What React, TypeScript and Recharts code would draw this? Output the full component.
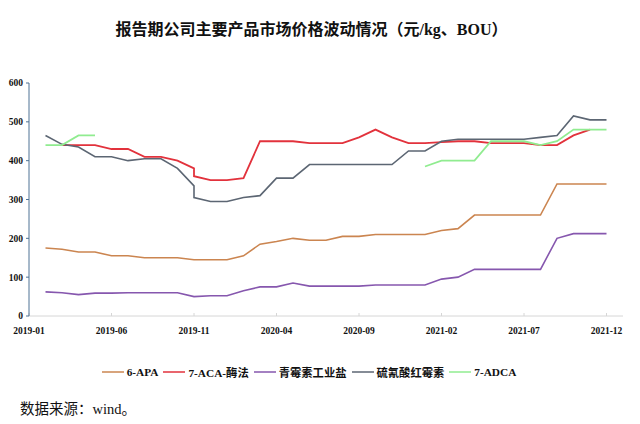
import React from 'react';
import { LineChart, Line, XAxis, YAxis, Legend } from 'recharts';

// month index: 0 = 2019-01 (month 10 appears twice: a same-day price drop)
const monthIdx = [1, 2, 3, 4, 5, 6, 7, 8, 9, 10, 10, 11, 12, 13, 14, 15, 16, 17, 18, 19, 20, 21, 22, 23, 24, 25, 26, 27, 28, 29, 30, 31, 32, 33, 34, 35];

const apa = [175, 172, 165, 165, 155, 155, 150, 150, 150, 145, 145, 145, 145, 155, 185, 192, 200, 195, 195, 205, 205, 210, 210, 210, 210, 220, 225, 260, 260, 260, 260, 260, 340, 340, 340, 340];
const aca = [null, 440, 440, 440, 430, 430, 410, 410, 400, 380, 360, 350, 350, 355, 450, 450, 450, 445, 445, 445, 460, 480, 460, 445, 445, 448, 450, 450, 445, 445, 445, 440, 440, 465, 480, null];
const penicillin = [62, 60, 55, 59, 59, 60, 60, 60, 60, 50, 50, 52, 52, 65, 75, 75, 85, 77, 77, 77, 77, 80, 80, 80, 80, 95, 100, 120, 120, 120, 120, 120, 200, 212, 212, 212];
const erythro = [465, 442, 435, 410, 410, 400, 405, 405, 380, 335, 305, 295, 295, 305, 310, 355, 355, 390, 390, 390, 390, 390, 390, 425, 425, 450, 455, 455, 455, 455, 455, 460, 465, 515, 505, 505];
const adca = [440, 440, 465, 465, null, null, null, null, null, null, null, null, null, null, null, null, null, null, null, null, null, null, null, null, 385, 400, 400, 400, 450, 450, 450, 440, 450, 480, 480, 480];

const xTicks = [0, 5, 10, 15, 20, 25, 30, 35];
const xTickLabels = ['2019-01', '2019-06', '2019-11', '2020-04', '2020-09', '2021-02', '2021-07', '2021-12'];
const yTicks = [0, 100, 200, 300, 400, 500, 600];

const data = monthIdx.map((m, i) => ({
  m,
  apa: apa[i],
  aca: aca[i],
  penicillin: penicillin[i],
  erythro: erythro[i],
  adca: adca[i],
}));

const SERIES = [
  { key: 'apa', name: '6-APA', color: '#CB8550', width: 1.6 },
  { key: 'aca', name: '7-ACA-酶法', color: '#E2323C', width: 1.8 },
  { key: 'penicillin', name: '青霉素工业盐', color: '#8657AE', width: 1.6 },
  { key: 'erythro', name: '硫氰酸红霉素', color: '#5C6673', width: 1.6 },
  { key: 'adca', name: '7-ADCA', color: '#90EC90', width: 1.8 },
];

const FONT = '"Liberation Serif", "Noto Sans CJK SC", serif';

// legend in series order, with tight spacing like the original
const renderLegend = () => (
  <div style={{ display: 'flex', justifyContent: 'center', alignItems: 'center', height: 20 }}>
    {SERIES.map((s) => (
      <div key={s.key} style={{ display: 'flex', alignItems: 'center', marginRight: 5 }}>
        <div style={{ width: 22, height: 1.6, background: s.color, opacity: 0.75, marginRight: 3 }} />
        <span style={{ fontSize: 11.3, fontWeight: 'bold', color: '#111' }}>{s.name}</span>
      </div>
    ))}
  </div>
);

export default function App() {
  return (
    <div style={{ position: 'absolute', left: 0, top: 0, width: 640, height: 424, background: '#fff', fontFamily: FONT }}>
      <div
        style={{
          position: 'absolute',
          top: 16,
          left: 0,
          width: 623,
          textAlign: 'center',
          fontSize: 16,
          fontWeight: 'bold',
          color: '#111',
        }}
      >
        报告期公司主要产品市场价格波动情况（元/kg、BOU）
      </div>
      <LineChart
        width={640}
        height={392}
        data={data}
        margin={{ top: 83, right: 17, left: 0, bottom: 10 }}
      >
        <XAxis
          dataKey="m"
          type="number"
          domain={[0, 36]}
          ticks={xTicks}
          tickFormatter={(v) => xTickLabels[xTicks.indexOf(v)]}
          height={46}
          stroke="#d6d6d6"
          tickSize={-3}
          tickMargin={14}
          tick={{ fill: '#111', fontSize: 9.5, fontWeight: 'bold', fontFamily: FONT }}
        />
        <YAxis
          domain={[0, 600]}
          ticks={yTicks}
          width={29}
          stroke="#4E7395"
          tickSize={3}
          tickMargin={3}
          tick={{ fill: '#111', fontSize: 9.5, fontWeight: 'bold', fontFamily: FONT }}
        />
        <Legend verticalAlign="bottom" height={20} content={renderLegend} />
        {SERIES.map((s) => (
          <Line
            key={s.key}
            type="linear"
            dataKey={s.key}
            name={s.name}
            stroke={s.color}
            strokeWidth={s.width}
            dot={false}
            isAnimationActive={false}
          />
        ))}
      </LineChart>
      <div style={{ position: 'absolute', top: 397, left: 20, fontSize: 14.5, color: '#111' }}>
        数据来源：wind。
      </div>
    </div>
  );
}
